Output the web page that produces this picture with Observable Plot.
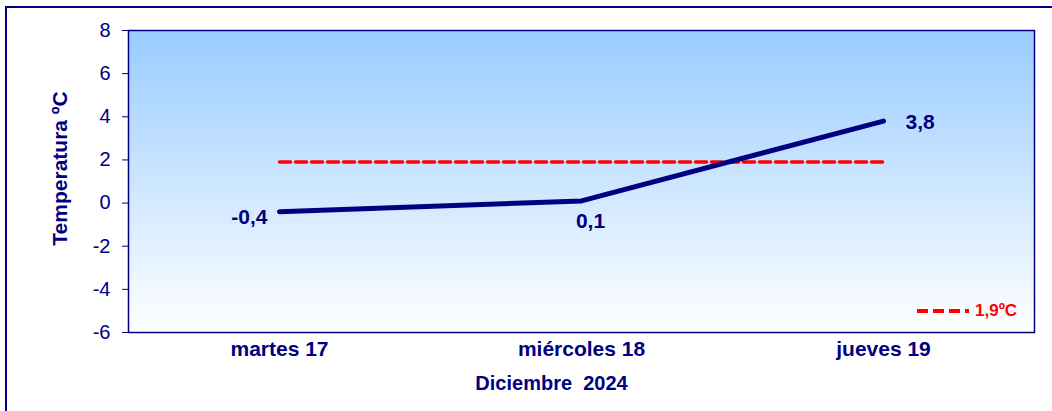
<!DOCTYPE html>
<html>
<head>
<meta charset="utf-8">
<script src="https://cdn.jsdelivr.net/npm/d3@7"></script>
<script src="https://cdn.jsdelivr.net/npm/@observablehq/plot@0.6"></script>
<style>
  html, body { margin: 0; padding: 0; background: #fff; overflow: hidden; }
  #wrap { position: relative; width: 1052px; height: 411px; }
  #border { position: absolute; left: 5px; top: 6px; width: 1100px; height: 500px;
            border: 2px solid #000080; pointer-events: none; }
  #legend { position: absolute; left: 916px; top: 300px; height: 22px; font: bold 17px "Liberation Sans", Arial, sans-serif;
            color: #ff0000; display: flex; align-items: center; }
  #legend svg { display: block; margin-right: 5px; }
</style>
</head>
<body>
<div id="wrap">
  <div id="chart"></div>
  <div id="border"></div>
  <div id="legend"><svg width="54" height="10"><line x1="1" y1="5" x2="53" y2="5" stroke="#ff0000" stroke-width="4" stroke-dasharray="11,5,11,5,11,5,4,4"/></svg><span id="legendText"></span></div>
</div>
<script>
const days = ["martes 17", "miércoles 18", "jueves 19"];
const temps = [-0.4, 0.1, 3.8];
const meanTemp = 1.9;
const yTicks = [-6, -4, -2, 0, 2, 4, 6, 8];
const yLabel = "Temperatura ºC";
const xLabel = "Diciembre  2024";
const legendLabel = "1,9ºC";

const data = days.map((d, i) => ({day: d, t: temps[i]}));
const meanData = [days[0], days[days.length - 1]].map(d => ({day: d, t: meanTemp}));
const fmt = v => v.toFixed(1).replace(".", ",");
const navy = "#000080";
const font = '"Liberation Sans", Arial, sans-serif';

const defs = () => {
  const svgNS = "http://www.w3.org/2000/svg";
  const d = document.createElementNS(svgNS, "defs");
  d.innerHTML = `<linearGradient id="bg" x1="0" y1="0" x2="0" y2="1">
    <stop offset="0%" stop-color="#99ccff"/>
    <stop offset="100%" stop-color="#ffffff"/>
  </linearGradient>`;
  return d;
};

const chart = Plot.plot({
  width: 1052,
  height: 411,
  marginLeft: 128,
  marginRight: 18,
  marginTop: 30,
  marginBottom: 79,
  style: {fontFamily: font, color: navy, background: "transparent"},
  x: {type: "point", domain: days, padding: 0.5, label: null},
  y: {domain: [-6, 8], label: null},
  marks: [
    defs,
    Plot.frame({fill: "url(#bg)", stroke: navy, strokeWidth: 1.5}),
    Plot.axisY({ticks: yTicks, tickSize: 6, tickPadding: 12, tickFormat: d => String(d),
      stroke: navy, fill: navy, fontSize: 20, label: null}),
    Plot.axisX({tickSize: 0, tickPadding: 9, fill: navy, fontSize: 21, fontWeight: "bold", label: null}),
    Plot.line(meanData, {x: "day", y: "t", stroke: "#ff0000", strokeWidth: 3.5, strokeDasharray: "11,5"}),
    Plot.line(data, {x: "day", y: "t", stroke: navy, strokeWidth: 5, strokeLinecap: "round", strokeLinejoin: "round"}),
    Plot.text(data.filter((d, i) => i === 0), {x: "day", y: "t", text: d => fmt(d.t), textAnchor: "end",
      dx: -12, dy: 6, fill: navy, fontSize: 21, fontWeight: "bold"}),
    Plot.text(data.filter((d, i) => i === 1), {x: "day", y: "t", text: d => fmt(d.t), textAnchor: "middle",
      dx: 9, dy: 20, fill: navy, fontSize: 21, fontWeight: "bold"}),
    Plot.text(data.filter((d, i) => i === 2), {x: "day", y: "t", text: d => fmt(d.t), textAnchor: "start",
      dx: 22, dy: 1, fill: navy, fontSize: 21, fontWeight: "bold"}),
    Plot.text([yLabel], {frameAnchor: "left", textAnchor: "middle", lineAnchor: "middle", dx: -68, dy: -13, rotate: -90, text: d => d,
      fill: navy, fontSize: 21, fontWeight: "bold"}),
    Plot.text([xLabel], {frameAnchor: "bottom", dx: -30, dy: 57, text: d => d,
      fill: navy, fontSize: 20, fontWeight: "bold"})
  ]
});
document.getElementById("chart").append(chart);
document.getElementById("legendText").textContent = legendLabel;
</script>
</body>
</html>
